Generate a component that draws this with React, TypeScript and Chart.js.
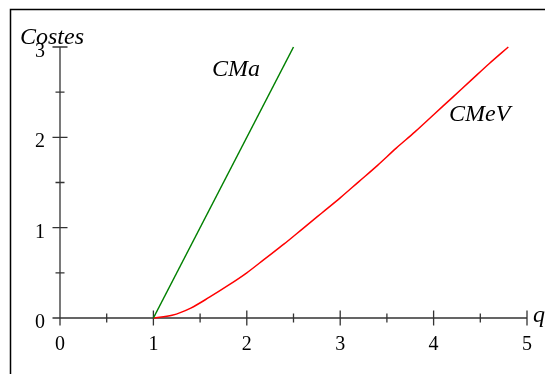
import React, { useEffect, useRef } from "react";
import { Chart, registerables } from "chart.js";

Chart.register(...registerables);

const qCMa = [1, 2.5];
const valCMa = [0, 3];
const qCMeV = [1, 1.2, 1.4, 1.6, 1.8, 2.0, 2.2, 2.4, 2.6, 2.8, 3.0, 3.2, 3.4, 3.6, 3.8, 4.0, 4.2, 4.4, 4.6, 4.8];
const valCMeV = [0, 0.03, 0.11, 0.23, 0.36, 0.5, 0.66, 0.82, 0.99, 1.16, 1.33, 1.51, 1.69, 1.88, 2.06, 2.25, 2.44, 2.63, 2.82, 3.0];
const xTicks = ["0", "1", "2", "3", "4", "5"];
const yTicks = ["0", "1", "2", "3"];
const seriesLabels = ["CMa", "CMeV"];
const axisTitles = { x: "q", y: "Costes" };

const SERIF = '"Liberation Serif", "Times New Roman", serif';

export default function App() {
  const ref = useRef<HTMLCanvasElement | null>(null);

  useEffect(() => {
    const canvas = ref.current;
    if (!canvas) return;

    const axesPlugin = {
      id: "mapleAxes",
      beforeDatasetsDraw(chart: any) {
        const ctx = chart.ctx;
        const xs = chart.scales.x;
        const ys = chart.scales.y;
        ctx.save();
        // frame
        ctx.strokeStyle = "#000";
        ctx.lineWidth = 1.5;
        ctx.beginPath();
        ctx.moveTo(10.5, 374);
        ctx.lineTo(10.5, 9.5);
        ctx.lineTo(545, 9.5);
        ctx.stroke();

        const x0 = xs.getPixelForValue(0);
        const y0 = ys.getPixelForValue(0);
        ctx.strokeStyle = "#333";
        ctx.lineWidth = 1.3;
        ctx.beginPath();
        ctx.moveTo(x0, y0);
        ctx.lineTo(xs.getPixelForValue(5), y0);
        ctx.moveTo(x0, y0);
        ctx.lineTo(x0, ys.getPixelForValue(3));
        for (let v = 0; v <= 5.001; v += 0.5) {
          const px = xs.getPixelForValue(v);
          const h = Math.abs(v - Math.round(v)) < 1e-6 ? 7.5 : 4.5;
          ctx.moveTo(px, y0 - h);
          ctx.lineTo(px, y0 + h);
        }
        for (let v = 0; v <= 3.001; v += 0.5) {
          const py = ys.getPixelForValue(v);
          const h = Math.abs(v - Math.round(v)) < 1e-6 ? 7.5 : 4.5;
          ctx.moveTo(x0 - h, py);
          ctx.lineTo(x0 + h, py);
        }
        ctx.stroke();
        ctx.restore();
      },
      afterDraw(chart: any) {
        const ctx = chart.ctx;
        const xs = chart.scales.x;
        const ys = chart.scales.y;
        ctx.save();
        ctx.fillStyle = "#000";
        ctx.font = "20px " + SERIF;
        ctx.textBaseline = "alphabetic";
        ctx.textAlign = "center";
        xTicks.forEach((t) => {
          ctx.fillText(t, xs.getPixelForValue(Number(t)), 350);
        });
        ctx.textAlign = "right";
        yTicks.forEach((t) => {
          ctx.fillText(t, 45, ys.getPixelForValue(Number(t)) + 10);
        });
        ctx.font = "italic 24px " + SERIF;
        ctx.textAlign = "left";
        ctx.fillText(axisTitles.y, 20, 44);
        ctx.fillText(axisTitles.x, 533, 322);
        ctx.fillText(seriesLabels[0], 212, 76);
        ctx.fillText(seriesLabels[1], 449, 121);
        ctx.restore();
      },
    };

    const chart = new Chart(canvas, {
      type: "line",
      data: {
        datasets: [
          {
            label: seriesLabels[0],
            data: qCMa.map((q, i) => ({ x: q, y: valCMa[i] })),
            borderColor: "#008000",
            borderWidth: 1.5,
            pointRadius: 0,
            fill: false,
            clip: false as any,
          },
          {
            label: seriesLabels[1],
            data: qCMeV.map((q, i) => ({ x: q, y: valCMeV[i] })),
            borderColor: "#ff0000",
            borderWidth: 1.5,
            pointRadius: 0,
            fill: false,
            cubicInterpolationMode: "monotone",
            clip: false as any,
          },
        ],
      },
      options: {
        responsive: false,
        animation: false,
        layout: { padding: { left: 60, right: 18, top: 47, bottom: 56 } },
        plugins: { legend: { display: false }, tooltip: { enabled: false } },
        scales: {
          x: { type: "linear", min: 0, max: 5, display: false },
          y: { type: "linear", min: 0, max: 3, display: false },
        },
      },
      plugins: [axesPlugin],
    });

    return () => chart.destroy();
  }, []);

  return (
    <div style={{ position: "fixed", left: 0, top: 0, width: 545, height: 374, background: "#fff" }}>
      <canvas ref={ref} width={545} height={374} style={{ display: "block" }} />
    </div>
  );
}
